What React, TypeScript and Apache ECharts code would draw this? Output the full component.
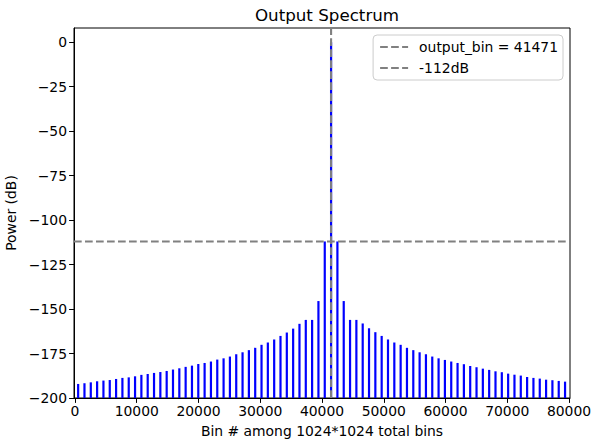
import React, { useEffect, useRef } from "react";
import * as echarts from "echarts";

const binPositions: number[] = [
  511, 1535, 2559, 3583, 4607, 5631, 6655, 7679, 8703, 9727,
  10751, 11775, 12799, 13823, 14847, 15871, 16895, 17919, 18943, 19967,
  20991, 22015, 23039, 24063, 25087, 26111, 27135, 28159, 29183, 30207,
  31231, 32255, 33279, 34303, 35327, 36351, 37375, 38399, 39423, 40447,
  41471, 42495, 43519, 44543, 45567, 46591, 47615, 48639, 49663, 50687,
  51711, 52735, 53759, 54783, 55807, 56831, 57855, 58879, 59903, 60927,
  61951, 62975, 63999, 65023, 66047, 67071, 68095, 69119, 70143, 71167,
  72191, 73215, 74239, 75263, 76287, 77311, 78335, 79359,
];

const powerDb: number[] = [
  -192.1, -191.7, -191.2, -190.6, -190.2, -189.9, -189.3, -188.7, -188.4, -187.8,
  -187.0, -186.5, -185.9, -185.4, -184.8, -184.0, -183.3, -182.5, -181.8, -180.9,
  -180.3, -179.5, -178.4, -177.7, -176.7, -175.4, -174.3, -173.1, -171.8, -170.1,
  -168.8, -167.1, -165.1, -163.2, -161.0, -158.3, -156.1, -156.1, -145.5, -112,
  0, -112, -145.5, -156.1, -156.1, -158.1, -160.8, -163.0, -165.1, -167.1,
  -168.8, -170.1, -171.8, -173.1, -174.3, -175.4, -176.7, -177.7, -178.6, -179.5,
  -180.3, -181.0, -182.0, -182.7, -183.5, -184.2, -185.0, -185.5, -186.3, -186.9,
  -187.4, -188.2, -188.7, -189.1, -189.7, -190.0, -190.4, -190.8,
];

const xTicks: number[] = [0, 10000, 20000, 30000, 40000, 50000, 60000, 70000, 80000];
const yTicks: number[] = [0, -25, -50, -75, -100, -125, -150, -175, -200];

const outputBin = 41471;
const thresholdDb = -112;
const xMin = -160;
const xMax = 80160;
const yMin = -200;
const yMax = 8;

const FONT = "DejaVu Sans";
const FS = 13.9;

export default function App() {
  const ref = useRef<HTMLDivElement>(null);
  useEffect(() => {
    if (!ref.current) return;
    const chart = echarts.init(ref.current, undefined, { renderer: "svg" });
    const stems = binPositions.map((b, i) => [b, powerDb[i]]);
    const minus = (v: number) => String(v).replace("-", "\u2212");
    chart.setOption({
      animation: false,
      backgroundColor: "#ffffff",
      textStyle: { fontFamily: FONT },
      title: {
        text: "Output Spectrum",
        left: 322,
        textAlign: "center",
        top: 1,
        textStyle: { fontFamily: FONT, fontSize: 16.7, fontWeight: "normal", color: "#000" },
      },
      legend: {
        data: [`output_bin = ${outputBin}`, `${thresholdDb}dB`],
        orient: "vertical",
        right: 39,
        top: 35,
        align: "left",
        itemWidth: 28,
        itemHeight: 14,
        itemGap: 7,
        padding: [5, 5, 5, 6],
        borderColor: "#cccccc",
        borderWidth: 1,
        borderRadius: 4,
        backgroundColor: "rgba(255,255,255,0.8)",
        itemStyle: { opacity: 0 },
        textStyle: { fontFamily: FONT, fontSize: FS, color: "#000", padding: [0, 0, 0, 6] },
      },
      grid: {
        left: 74,
        right: 32,
        top: 28,
        bottom: 45,
        show: true,
        borderColor: "#000",
        borderWidth: 1,
        backgroundColor: "transparent",
        outerBoundsMode: "none",
        containLabel: false,
      },
      xAxis: {
        type: "value",
        min: xMin,
        max: xMax,
        name: "Bin # among 1024*1024 total bins",
        nameLocation: "middle",
        nameGap: 26,
        nameTextStyle: { fontFamily: FONT, fontSize: FS, color: "#000" },
        axisLine: { show: true, onZero: false, lineStyle: { color: "#000", width: 1 } },
        axisTick: { show: true, inside: false, length: 4.9, customValues: xTicks, lineStyle: { color: "#000" } },
        axisLabel: {
          customValues: xTicks,
          margin: 6,
          fontFamily: FONT,
          fontSize: FS,
          color: "#000",
          formatter: (v: number) => minus(v),
        },
        splitLine: { show: false },
      },
      yAxis: {
        type: "value",
        min: yMin,
        max: yMax,
        name: "Power (dB)",
        nameLocation: "middle",
        nameGap: 52,
        nameRotate: 90,
        nameTextStyle: { fontFamily: FONT, fontSize: FS, color: "#000" },
        axisLine: { show: true, onZero: false, lineStyle: { color: "#000", width: 1 } },
        axisTick: { show: true, inside: false, length: 4.9, customValues: yTicks, lineStyle: { color: "#000" } },
        axisLabel: {
          customValues: yTicks,
          margin: 7,
          fontFamily: FONT,
          fontSize: FS,
          color: "#000",
          formatter: (v: number) => minus(v),
        },
        splitLine: { show: false },
      },
      series: [
        {
          type: "custom",
          name: "spectrum",
          data: stems,
          clip: true,
          renderItem: (params: any, api: any) => {
            const x = api.value(0);
            const y = api.value(1);
            const p0 = api.coord([x, yMin]);
            const p1 = api.coord([x, y]);
            return {
              type: "line",
              shape: { x1: p0[0], y1: p0[1], x2: p1[0], y2: p1[1] },
              style: { stroke: "#0000ff", lineWidth: 2.2 },
            };
          },
        },
        {
          type: "line",
          name: `output_bin = ${outputBin}`,
          data: [
            [outputBin, yMin],
            [outputBin, yMax],
          ],
          symbol: "none",
          lineStyle: { color: "#808080", width: 2.1, type: [7.7, 3.3] },
          itemStyle: { color: "#808080" },
        },
        {
          type: "line",
          name: `${thresholdDb}dB`,
          data: [
            [xMin, thresholdDb],
            [xMax, thresholdDb],
          ],
          symbol: "none",
          lineStyle: { color: "#808080", width: 2.1, type: [7.7, 3.3] },
          itemStyle: { color: "#808080" },
        },
      ],
    });
    return () => chart.dispose();
  }, []);
  return (
    <div
      ref={ref}
      style={{ position: "fixed", left: 0, top: 0, width: 602, height: 443 }}
    />
  );
}
